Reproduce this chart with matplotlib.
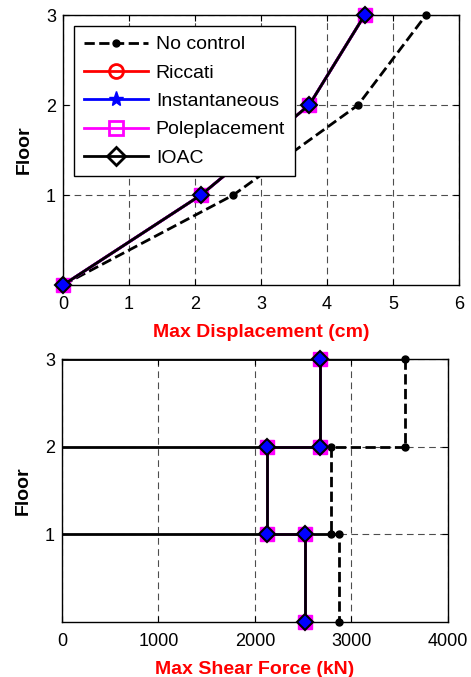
import matplotlib
matplotlib.use('Agg')
import matplotlib.pyplot as plt
import numpy as np
from matplotlib.lines import Line2D

plt.rcParams['font.family'] = ['Liberation Sans', 'DejaVu Sans']

# Данные
floors = [0, 1, 2, 3]
disp_nocontrol = [0, 2.58, 4.47, 5.5]
disp_control = [0, 2.09, 3.73, 4.57]   # Riccati / Instantaneous / Poleplacement / IOAC

# сдвиг по этажам (этаж 1, 2, 3)
shear_nocontrol = [2870, 2790, 3555]
shear_control = [2520, 2120, 2670]
floor_line_end = [2790, 2790, 3555]   # сплошные линии перекрытий (этажи 1..3)

labels = ['No control', 'Riccati', 'Instantaneous', 'Poleplacement', 'IOAC']

fig = plt.figure(figsize=(4.71, 6.77), dpi=100)
ax1 = fig.add_axes([0.1338, 0.579, 0.8408, 0.3988])
ax2 = fig.add_axes([0.1316, 0.0812, 0.8195, 0.3885])


def draw_controlled(ax, x, y):
	ax.plot(x, y, color='red', lw=2, marker='o', ms=7, mfc='none', mew=1.5, clip_on=False, zorder=3)
	ax.plot(x, y, color='blue', lw=2, marker='*', ms=9, clip_on=False, zorder=4)
	ax.plot(x, y, color='magenta', lw=2, marker='s', ms=10, mfc='magenta', mec='magenta', clip_on=False, zorder=5)
	ax.plot(x, y, color='black', lw=2, marker='D', ms=8, mfc='blue', mec='black', mew=1.5, clip_on=False, zorder=6)


# Верхний график: перемещения
ax1.plot(disp_nocontrol, floors, color='black', lw=2, ls='--', marker='o', ms=5, clip_on=False, zorder=2)
draw_controlled(ax1, disp_control, floors)
ax1.set_xlim(0, 6)
ax1.set_ylim(0, 3)
ax1.set_xticks(range(0, 7))
ax1.set_yticks([1, 2, 3])
ax1.set_xlabel('Max Displacement (cm)', color='red', fontweight='bold', fontsize=14, labelpad=8)
ax1.set_ylabel('Floor', fontweight='bold', fontsize=14, labelpad=9.5)

handles = [
	Line2D([], [], color='black', lw=2, ls='--', marker='o', ms=5),
	Line2D([], [], color='red', lw=2, marker='o', ms=10, mfc='none', mew=2),
	Line2D([], [], color='blue', lw=2, marker='*', ms=11),
	Line2D([], [], color='magenta', lw=2, marker='s', ms=10, mfc='none', mew=2),
	Line2D([], [], color='black', lw=2, marker='D', ms=9, mfc='none', mew=2),
]
leg = ax1.legend(handles, labels, loc='upper left', bbox_to_anchor=(0.028, 0.959),
				 borderaxespad=0, fontsize=14, fancybox=False, framealpha=1,
				 edgecolor='black', handlelength=3.3, handletextpad=0.4,
				 labelspacing=0.55, borderpad=0.5)
leg.get_frame().set_linewidth(1)
leg.set_zorder(10)

# Нижний график: поперечные силы
y_step = np.repeat(floors[::-1], 2)[1:-1]
x_nc = np.repeat(shear_nocontrol[::-1], 2)
x_c = np.repeat(shear_control[::-1], 2)
for f, xe in zip(floors[1:], floor_line_end):
	ax2.plot([0, xe], [f, f], color='black', lw=2, zorder=2)
ax2.plot(x_nc, y_step, color='black', lw=2, ls='--', marker='o', ms=5, clip_on=False, zorder=2)
draw_controlled(ax2, x_c, y_step)
ax2.set_xlim(0, 4000)
ax2.set_ylim(0, 3)
ax2.set_xticks(range(0, 4001, 1000))
ax2.set_yticks([1, 2, 3])
ax2.set_xlabel('Max Shear Force (kN)', color='red', fontweight='bold', fontsize=14, labelpad=8)
ax2.set_ylabel('Floor', fontweight='bold', fontsize=14, labelpad=9.5)

for ax in (ax1, ax2):
	ax.grid(True, color='0.3', ls=(0, (6, 4)), lw=0.8)
	ax.set_axisbelow(True)
	ax.tick_params(direction='in', top=True, right=True, length=4, labelsize=13)
	ax.tick_params(axis='x', pad=8)
	ax.tick_params(axis='y', pad=5)
	for s in ax.spines.values():
		s.set_linewidth(1)
		s.set_color('black')

fig.savefig('out.png', dpi=100)
